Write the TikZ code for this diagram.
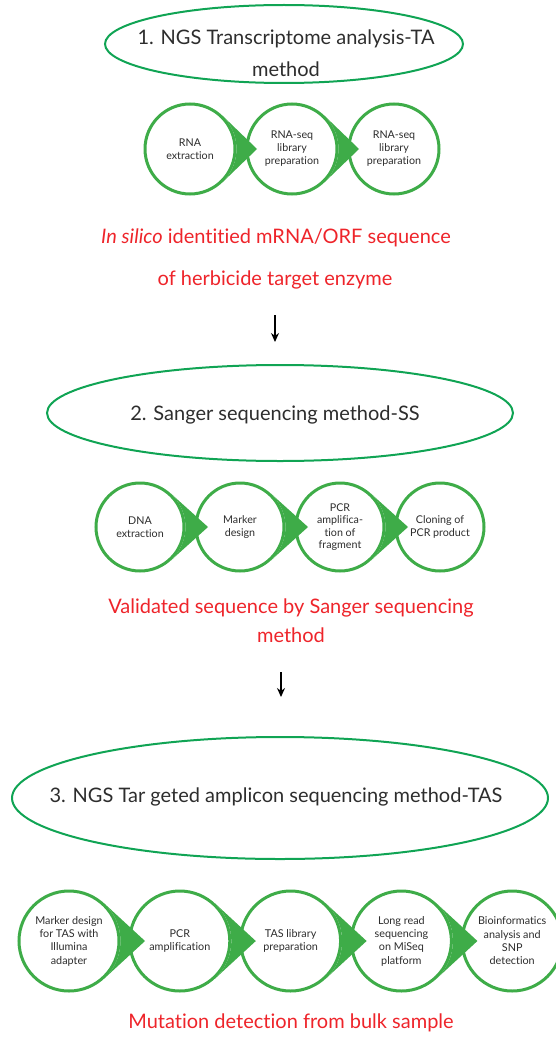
\documentclass[tikz,border=0pt]{standalone}
\usepackage{fontspec}
\setmainfont{Lato}[Ligatures=NoCommon]
\usetikzlibrary{shapes.geometric,positioning,calc,arrows.meta}

\definecolor{stepgreen}{RGB}{62,172,72}
\definecolor{phasegreen}{RGB}{16,164,84}
\definecolor{notered}{RGB}{238,36,42}
\definecolor{inkgray}{RGB}{45,45,45}

\tikzset{
	phase/.style={ellipse, draw=phasegreen, line width=2pt, inner sep=0pt},
	phasetext/.style={font=\fontsize{20}{32}\selectfont, text=inkgray, align=center},
	stepcircle/.style={circle, draw=stepgreen, fill=white, line width=3pt,
		inner sep=0pt, align=center, text=inkgray},
	rowone/.style={stepcircle, minimum size=90pt, font=\fontsize{10.7}{13}\selectfont},
	rowtwo/.style={stepcircle, minimum size=88pt, font=\fontsize{10.7}{12.5}\selectfont},
	rowthree/.style={stepcircle, minimum size=100pt, font=\fontsize{10.8}{13.3}\selectfont},
	result/.style={font=\fontsize{20}{29}\selectfont, text=notered, align=center},
	flow/.style={-{Stealth[length=9pt,width=8pt]}, line width=1.4pt},
}

% green pointer on the right of a step circle: node, outer radius, tip offset
\newcommand{\steptip}[3]{%
	\pgfmathsetmacro{\tipang}{acos(#2/#3)}%
	\fill[stepgreen] ($(#1.center)+(\tipang:#2pt)$) -- ($(#1.center)+(#3pt,0pt)$)
		-- ($(#1.center)+(-\tipang:#2pt)$)
		arc[start angle=-\tipang, end angle=\tipang, radius=#2pt] -- cycle;}

\begin{document}
\begin{tikzpicture}[x=1pt, y=-1pt, on grid]
	\useasboundingbox (0,0) rectangle (556,1038);

	% 1. transcriptome analysis
	\node[phase, minimum width=358pt, minimum height=78pt] (ta) at (284,44) {};
	\node[phasetext, anchor=base] (tatext) at (286,77)
		{1. NGS Transcriptome analysis-TA\\method};

	\node[rowone] (rna) at (190,149) {RNA\\extraction};
	\node[rowone, right=102pt of rna] (libone) {RNA-seq\\library\\preparation};
	\node[rowone, right=102pt of libone] (libtwo) {RNA-seq\\library\\preparation};
	\foreach \n in {rna, libone} {\steptip{\n}{46.5}{67}}

	\node[result, anchor=base] (silico) at (276,243)
		{\textit{In silico} identitied mRNA/ORF sequence};
	\node[result, anchor=base] (enzyme) at (275,285) {of herbicide target enzyme};

	\coordinate (downonea) at (275,315);
	\coordinate (downoneb) at (275,342);
	\draw[flow] (downonea) -- (downoneb);

	% 2. sanger sequencing
	\node[phase, minimum width=466pt, minimum height=96pt] (ss) at (280,413) {};
	\node[phasetext, anchor=base] (sstext) at (275,420) {2. Sanger sequencing method-SS};

	\node[rowtwo] (dna) at (140,527) {DNA\\extraction};
	\node[rowtwo, right=100pt of dna] (marker) {Marker\\design};
	\node[rowtwo, right=100pt of marker] (pcr) {PCR\\amplifica-\\tion of\\fragment};
	\node[rowtwo, right=100pt of pcr] (cloning) {Cloning of\\PCR product};
	\foreach \n in {dna, marker, pcr} {\steptip{\n}{45.5}{68}}

	\node[result, anchor=base] (validated) at (291,642)
		{Validated sequence by Sanger sequencing\\method};

	\coordinate (downtwoa) at (281,672);
	\coordinate (downtwob) at (281,697);
	\draw[flow] (downtwoa) -- (downtwob);

	% 3. targeted amplicon sequencing
	\node[phase, minimum width=536pt, minimum height=122pt] (tas) at (280,798) {};
	\node[phasetext, anchor=base] (tastext) at (276,802)
		{3. NGS Tar geted amplicon sequencing method-TAS};

	\node[rowthree] (tasmarker) at (69,941) {Marker design\\for TAS with\\Illumina\\adapter};
	\node[rowthree, right=110.8pt of tasmarker] (taspcr) {PCR\\amplification};
	\node[rowthree, right=110.8pt of taspcr] (taslib) {TAS library\\preparation};
	\node[rowthree, right=110.8pt of taslib] (longread) {Long read\\sequencing\\on MiSeq\\platform};
	\node[rowthree, right=110.8pt of longread] (bioinfo) {Bioinformatics\\analysis and\\SNP\\detection};
	\foreach \n in {tasmarker, taspcr, taslib, longread} {\steptip{\n}{51.5}{76}}

	\node[result, anchor=base] (mutation) at (291,1028) {Mutation detection from bulk sample};
\end{tikzpicture}
\end{document}
